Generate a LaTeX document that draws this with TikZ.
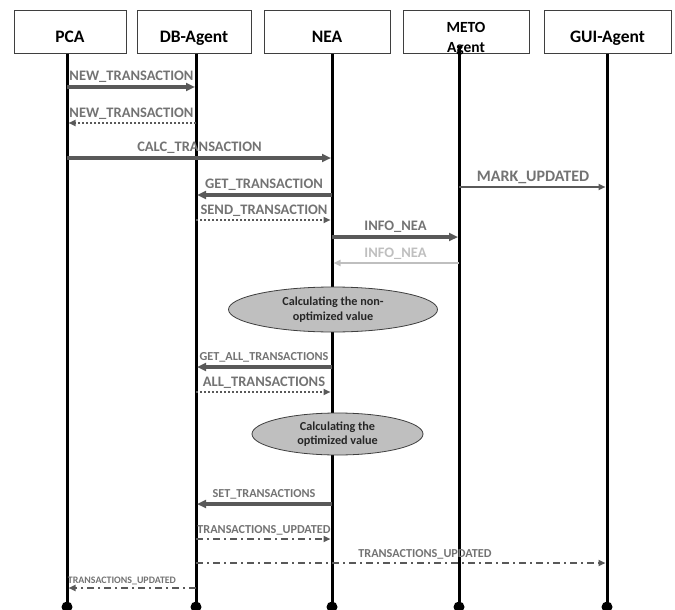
\documentclass[tikz,border=0pt]{standalone}
\usepackage{fontspec}
\setmainfont{Carlito}
\usetikzlibrary{arrows.meta,shapes.geometric}
\definecolor{wire}{HTML}{595959}
\definecolor{caption}{HTML}{737373}
\definecolor{faint}{HTML}{BFBFBF}
\definecolor{blob}{HTML}{BFBFBF}
\definecolor{rim}{HTML}{3F3F3F}
\newcommand{\lblfont}{\bfseries\fontsize{14.5}{15}\selectfont}
\newcommand{\smallfont}{\bfseries\fontsize{12.2}{13}\selectfont}
\tikzset{
  bighead/.tip={Triangle[length=9pt,width=8pt]},
  smallhead/.tip={Triangle[length=7pt,width=6pt]}
}

\begin{document}
\begin{tikzpicture}[x=1pt,y=-1pt,
    agent/.style={draw=rim, line width=.8pt, fill=white, minimum width=#1, minimum height=43.5pt, inner sep=0pt,
      text height=22.4pt, text depth=0pt, font=\bfseries\fontsize{17.5}{18}\selectfont},
    life/.style={line width=3pt},
    call/.style={wire, line width=4pt, -{bighead}, shorten >=1pt},
    reply/.style={wire, line width=2pt, dotted, -{smallhead}, shorten >=1.5pt},
    note/.style={wire, line width=2pt, dash pattern=on 7pt off 4pt on 2pt off 4pt, -{smallhead}, shorten >=1.5pt},
    lbl/.style={midway, above, caption, inner sep=2.5pt, font=\lblfont},
    task/.style={ellipse, draw=rim, line width=.8pt, fill=blob, inner sep=0pt, align=center,
      text=black!85, font=\bfseries\fontsize{12.2}{14.5}\selectfont}]
  \useasboundingbox (0,0) rectangle (675,610);

  % agents
  \node[agent=112pt] (pca) at (70,31.8) {PCA};
  \node[agent=114pt] (db) at (194,31.8) {DB-Agent};
  \node[agent=126pt] (nea) at (327,31.8) {NEA};
  \node[agent=126pt] (meto) at (466,31.8) {};
  \node[font=\bfseries\fontsize{15.5}{19.4}\selectfont, align=center] (metoname) at (466,38.8) {METO\\Agent};
  \node[agent=127pt] (gui) at (607.5,31.8) {GUI-Agent};

  % lifelines
  \coordinate (pcaL) at (67,54);   \coordinate (pcaE) at (67,607);
  \coordinate (dbL) at (196,54);   \coordinate (dbE) at (196,607);
  \coordinate (neaL) at (332,54);  \coordinate (neaE) at (332,607);
  \coordinate (metoL) at (459,46); \coordinate (metoE) at (459,607);
  \coordinate (guiL) at (607,54);  \coordinate (guiE) at (607,607);
  \foreach \a in {pca,db,nea,meto,gui} {
    \draw[life] (\a L) -- (\a E);
    \fill (\a E) circle (5.5pt);
  }

  % message rows
  \coordinate (m1) at (0,87);
  \coordinate (m2) at (0,123);
  \coordinate (m3) at (0,158);
  \coordinate (m4) at (0,195);
  \coordinate (m5) at (0,187);
  \coordinate (m6) at (0,220);
  \coordinate (m7) at (0,237);
  \coordinate (m8) at (0,263);
  \coordinate (m9) at (0,367);
  \coordinate (m10) at (0,392);
  \coordinate (m11) at (0,504);
  \coordinate (m12) at (0,539);
  \coordinate (m13) at (0,563);
  \coordinate (m14) at (0,588);

  % first part
  \draw[call] (pcaL |- m1) -- (dbL |- m1) node[lbl] {NEW\_TRANSACTION};
  \draw[reply] (dbL |- m2) -- (pcaL |- m2) node[lbl] {NEW\_TRANSACTION};
  \draw[call] (pcaL |- m3) -- (neaL |- m3) node[lbl] {CALC\_TRANSACTION};
  \draw[call] (neaL |- m4) -- (dbL |- m4) node[lbl] {GET\_TRANSACTION};
  \draw[wire, line width=2pt, -{smallhead}, shorten >=1.5pt] (metoL |- m5) -- (guiL |- m5)
    node[lbl, font=\bfseries\fontsize{16}{16}\selectfont] {MARK\_UPDATED};
  \draw[reply] (dbL |- m6) -- (neaL |- m6) node[lbl] {SEND\_TRANSACTION};
  \draw[call] (neaL |- m7) -- (metoL |- m7) node[lbl] {INFO\_NEA};
  \draw[faint, line width=2.5pt, -{smallhead}, shorten >=1.5pt] (metoL |- m8) -- (neaL |- m8)
    node[lbl, text=faint] {INFO\_NEA};

  % non-optimized value
  \node[task, minimum width=209pt, minimum height=45pt] (calc1) at (333,309.5) {Calculating the non-\\optimized value};

  \draw[call] (neaL |- m9) -- (dbL |- m9) node[lbl, font=\smallfont] {GET\_ALL\_TRANSACTIONS};
  \draw[reply] (dbL |- m10) -- (neaL |- m10) node[lbl] {ALL\_TRANSACTIONS};

  % optimized value
  \node[task, minimum width=171pt, minimum height=42pt] (calc2) at (337.5,434) {Calculating the\\optimized value};

  % updates
  \draw[call] (neaL |- m11) -- (dbL |- m11) node[lbl, font=\smallfont] {SET\_TRANSACTIONS};
  \draw[note] (dbL |- m12) -- (neaL |- m12) node[lbl, font=\smallfont] {TRANSACTIONS\_UPDATED};
  \draw[note] (dbL |- m13) -- (guiL |- m13) node[lbl, pos=.557, font=\smallfont] {TRANSACTIONS\_UPDATED};
  \draw[note] (dbL |- m14) -- (pcaL |- m14) node[lbl, pos=.574, font=\bfseries\fontsize{9.9}{10}\selectfont] {TRANSACTIONS\_UPDATED};
\end{tikzpicture}
\end{document}
